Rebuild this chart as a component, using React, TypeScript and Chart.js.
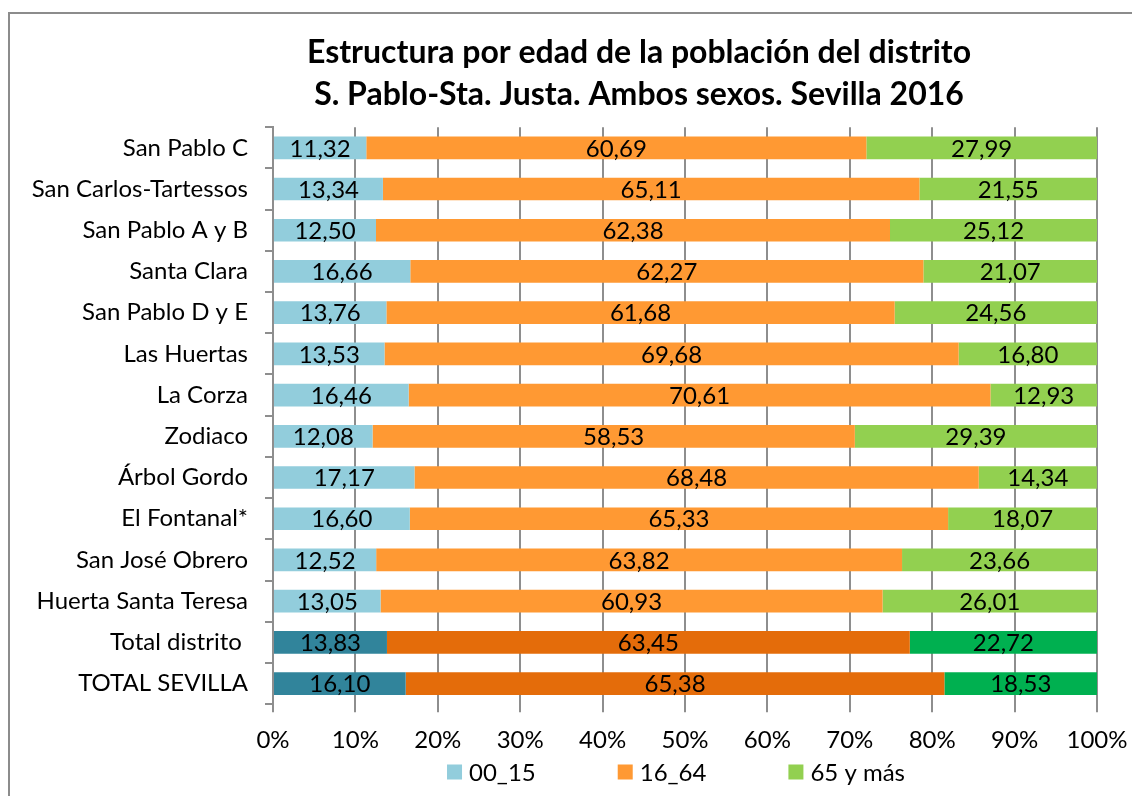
import React, { useEffect, useRef } from 'react';
import { Chart, registerables } from 'chart.js';

Chart.register(...registerables);

const FONT = 'Lato, "Open Sans", sans-serif';

const titleLines = [
  'Estructura por edad de la población del distrito',
  'S. Pablo-Sta. Justa. Ambos sexos. Sevilla 2016',
];

const categories = [
  'San Pablo C',
  'San Carlos-Tartessos',
  'San Pablo A y B',
  'Santa Clara',
  'San Pablo D y E',
  'Las Huertas',
  'La Corza',
  'Zodiaco',
  'Árbol Gordo',
  'El Fontanal*',
  'San José Obrero',
  'Huerta Santa Teresa',
  'Total distrito ',
  'TOTAL SEVILLA',
];

const highlighted = ['Total distrito ', 'TOTAL SEVILLA'];

const age00_15 = [11.32, 13.34, 12.5, 16.66, 13.76, 13.53, 16.46, 12.08, 17.17, 16.6, 12.52, 13.05, 13.83, 16.1];
const age16_64 = [60.69, 65.11, 62.38, 62.27, 61.68, 69.68, 70.61, 58.53, 68.48, 65.33, 63.82, 60.93, 63.45, 65.38];
const age65 = [27.99, 21.55, 25.12, 21.07, 24.56, 16.8, 12.93, 29.39, 14.34, 18.07, 23.66, 26.01, 22.72, 18.53];

const seriesNames = ['00_15', '16_64', '65 y más'];
const lightColors = ['#92CDDC', '#FF9933', '#92D050'];
const darkColors = ['#31849B', '#E46C0A', '#00B050'];

const xTickStep = 10;
const xMax = 100;

const GRID = '#8e8e8e';
const TEXT_SIZE = 24;

const fmt = (v: number) => v.toFixed(2).replace('.', ',');

const dataLabelPlugin = {
  id: 'dataLabels',
  afterDatasetsDraw(chart: any) {
    const ctx = chart.ctx;
    ctx.save();
    ctx.font = `${TEXT_SIZE}px ${FONT}`;
    ctx.fillStyle = '#000';
    ctx.textAlign = 'center';
    ctx.textBaseline = 'middle';
    chart.data.datasets.forEach((ds: any, i: number) => {
      const meta = chart.getDatasetMeta(i);
      meta.data.forEach((bar: any, j: number) => {
        const v = ds.data[j] as number;
        const x = (bar.x + bar.base) / 2;
        ctx.fillText(fmt(v), x, bar.y + 1);
      });
    });
    ctx.restore();
  },
};

const titleShiftPlugin = {
  id: 'titleShift',
  afterLayout(chart: any) {
    const t = chart.titleBlock;
    if (t) {
      t.left = 181;
      t.right = chart.chartArea.right;
    }
  },
};

const legendPlugin = {
  id: 'customLegend',
  afterDraw(chart: any) {
    const { ctx, chartArea } = chart;
    ctx.save();
    ctx.font = `${TEXT_SIZE}px ${FONT}`;
    ctx.textBaseline = 'middle';
    ctx.textAlign = 'left';
    const box = 15;
    const gapText = 7;
    const gapItem = 82;
    const items = chart.data.datasets.map((ds: any, i: number) => ({
      text: ds.label as string,
      color: lightColors[i],
      w: box + gapText + ctx.measureText(ds.label).width,
    }));
    const total = items.reduce((a: number, b: any) => a + b.w, 0) + gapItem * (items.length - 1);
    let x = (chartArea.left + chartArea.right) / 2 - 9 - total / 2;
    const yc = chart.height - 24;
    items.forEach((it: any) => {
      ctx.fillStyle = it.color;
      ctx.fillRect(x, yc - box / 2, box, box);
      ctx.fillStyle = '#000';
      ctx.fillText(it.text, x + box + gapText, yc + 1);
      x += it.w + gapItem;
    });
    ctx.restore();
  },
};

export default function App() {
  const canvasRef = useRef<HTMLCanvasElement | null>(null);

  useEffect(() => {
    if (!canvasRef.current) return;
    const colorsFor = (i: number) =>
      categories.map((c) => (highlighted.includes(c) ? darkColors[i] : lightColors[i]));
    const series = [age00_15, age16_64, age65];
    const chart = new Chart(canvasRef.current, {
      type: 'bar',
      data: {
        labels: categories,
        datasets: series.map((d, i) => ({
          label: seriesNames[i],
          data: d,
          backgroundColor: colorsFor(i),
          borderWidth: 0,
          categoryPercentage: 1,
          barPercentage: 0.55,
        })),
      },
      options: {
        indexAxis: 'y',
        responsive: false,
        animation: false,
        layout: { padding: { left: 0, right: 35, top: 0, bottom: 27 } },
        plugins: {
          legend: { display: false },
          tooltip: { enabled: false },
          title: {
            display: true,
            text: titleLines,
            color: '#000',
            font: { family: FONT, size: 32, weight: 'bold', lineHeight: 1.3 },
            padding: { top: 32, bottom: 12 },
          },
        },
        scales: {
          x: {
            stacked: true,
            min: 0,
            max: xMax,
            ticks: {
              stepSize: xTickStep,
              callback: (v: any) => `${v}%`,
              color: '#000',
              font: { family: FONT, size: TEXT_SIZE },
              padding: 14,
              maxRotation: 0,
              autoSkip: false,
            },
            grid: { color: GRID, lineWidth: 2, tickLength: 8, drawTicks: true },
            border: { display: false },
            afterFit: (s: any) => {
              s.paddingLeft = 0;
              s.paddingRight = 0;
            },
          },
          y: {
            stacked: true,
            ticks: {
              color: '#000',
              font: { family: FONT, size: TEXT_SIZE },
              padding: 17,
              autoSkip: false,
            },
            grid: { drawOnChartArea: false, tickLength: 8, color: GRID, lineWidth: 2, offset: true },
            border: { display: true, color: GRID, width: 2 },
            afterFit: (s: any) => {
              s.width = 273;
              s.paddingTop = 0;
              s.paddingBottom = 0;
            },
          },
        },
      },
      plugins: [titleShiftPlugin, dataLabelPlugin, legendPlugin],
    } as any);
    return () => chart.destroy();
  }, []);

  return (
    <div
      style={{
        position: 'fixed',
        left: 0,
        top: 0,
        width: 1132,
        height: 796,
        overflow: 'hidden',
        background: '#fff',
      }}
    >
      <div
        style={{
          position: 'absolute',
          left: 8,
          top: 12,
          width: 1300,
          height: 900,
          border: '2px solid #8c8c8c',
          boxSizing: 'border-box',
        }}
      />
      <canvas
        ref={canvasRef}
        width={1132}
        height={796}
        style={{ position: 'absolute', left: 0, top: 0, width: 1132, height: 796 }}
      />
    </div>
  );
}
